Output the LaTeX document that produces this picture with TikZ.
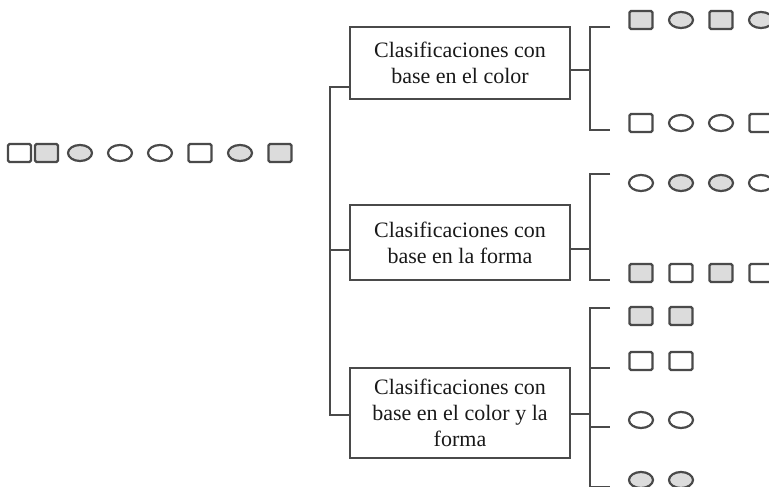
\documentclass[tikz,border=0pt]{standalone}
\usepackage{fontspec}
\setmainfont{Liberation Serif}
\usetikzlibrary{shapes.geometric}
\definecolor{linegray}{HTML}{4A4A4A}
\definecolor{shade}{HTML}{DCDCDC}
\tikzset{
  conn/.style={draw=linegray,line width=2.2pt},
  classbox/.style={draw=linegray,line width=2.2pt,minimum width=220pt,align=center,
    font=\fontsize{22}{26}\selectfont,text=black!90},
  sqw/.style={rectangle,draw=linegray,line width=2.2pt,rounded corners=1.5pt,
    minimum width=23pt,minimum height=18pt,inner sep=0pt,fill=white},
  sqg/.style={sqw,fill=shade},
  elw/.style={ellipse,draw=linegray,line width=2.2pt,
    minimum width=24pt,minimum height=16pt,inner sep=0pt,fill=white},
  elg/.style={elw,fill=shade}
}
\begin{document}
\begin{tikzpicture}[x=1pt,y=-1pt]
      \useasboundingbox (0,0) rectangle (769,487);

      % the eight objects
      \node[sqw] (o1) at (19.5,153) {};
      \node[sqg] (o2) at (46.5,153) {};
      \node[elg] (o3) at (80,153)   {};
      \node[elw] (o4) at (120,153)  {};
      \node[elw] (o5) at (160,153)  {};
      \node[sqw] (o6) at (200,153)  {};
      \node[elg] (o7) at (240,153)  {};
      \node[sqg] (o8) at (280,153)  {};

      % classification boxes
      \node[classbox,minimum height=72pt] (color) at (460,63)
        {Clasificaciones con\\base en el color};
      \node[classbox,minimum height=75pt] (forma) at (460,242.5)
        {Clasificaciones con\\base en la forma};
      \node[classbox,minimum height=90pt] (ambos) at (460,413)
        {Clasificaciones con\\base en el color y la\\forma};

      % trunk
      \coordinate (t1) at (330,87);
      \coordinate (t2) at (330,250);
      \coordinate (t3) at (330,415);
      \draw[conn] (color.west |- t1) -- (t1) -- (t3) -- (ambos.west |- t3);
      \draw[conn] (t2) -- (forma.west |- t2);

      % brackets
      \coordinate (c1) at (590,70);
      \coordinate (f1) at (590,249);
      \coordinate (a1) at (590,414);
      \draw[conn] (color.east |- c1) -- (c1);
      \draw[conn] (forma.east |- f1) -- (f1);
      \draw[conn] (ambos.east |- a1) -- (a1);
      \draw[conn] (610,27) -- (590,27) -- (590,130) -- (610,130);
      \draw[conn] (610,174) -- (590,174) -- (590,280) -- (610,280);
      \draw[conn] (610,308) -- (590,308) -- (590,487) -- (610,487);
      \draw[conn] (590,368) -- (610,368);
      \draw[conn] (590,427) -- (610,427);

      % groups by color
      \foreach \s [count=\i] in {sqg,elg,sqg,elg}
        \node[\s] (ca\i) at (601+40*\i,20) {};
      \foreach \s [count=\i] in {sqw,elw,elw,sqw}
        \node[\s] (cb\i) at (601+40*\i,123) {};

      % groups by shape
      \foreach \s [count=\i] in {elw,elg,elg,elw}
        \node[\s] (fa\i) at (601+40*\i,183) {};
      \foreach \s [count=\i] in {sqg,sqw,sqg,sqw}
        \node[\s] (fb\i) at (601+40*\i,273) {};

      % groups by color and shape
      \foreach \i in {1,2} {
        \node[sqg] (aa\i) at (601+40*\i,316) {};
        \node[sqw] (ab\i) at (601+40*\i,361) {};
        \node[elw] (ac\i) at (601+40*\i,420) {};
        \node[elg] (ad\i) at (601+40*\i,480) {};
      }

    \end{tikzpicture}
\end{document}
